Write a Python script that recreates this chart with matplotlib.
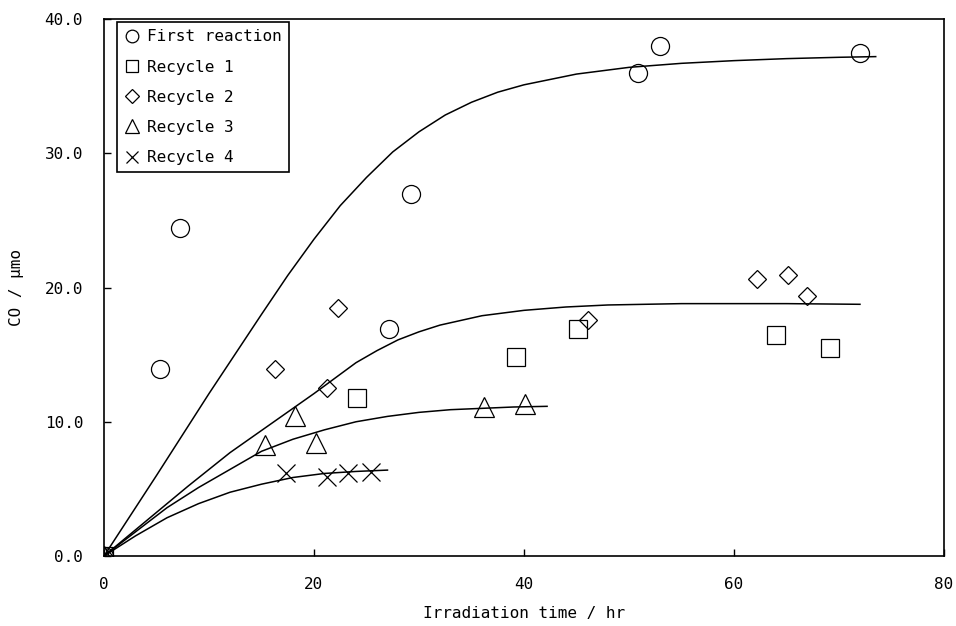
import matplotlib.pyplot as plt

plt.rcParams['font.family'] = ['DejaVu Sans Mono', 'DejaVu Sans']

# measured points
first_x = [0, 5.3, 7.2, 27.1, 29.2, 50.9, 53.0, 72.0]
first_y = [0, 13.9, 24.4, 16.9, 27.0, 36.0, 38.0, 37.5]

rec1_x = [0, 24.1, 39.2, 45.1, 64.0, 69.1]
rec1_y = [0, 11.8, 14.8, 16.9, 16.5, 15.5]

rec2_x = [0, 16.3, 21.2, 22.3, 46.1, 62.2, 65.1, 67.0]
rec2_y = [0, 13.9, 12.5, 18.5, 17.6, 20.6, 20.9, 19.4]

rec3_x = [0, 15.3, 18.2, 20.2, 36.2, 40.1]
rec3_y = [0, 8.3, 10.4, 8.4, 11.1, 11.3]

rec4_x = [0, 17.3, 21.2, 23.2, 25.4]
rec4_y = [0, 6.2, 5.9, 6.2, 6.25]

# fitted curves
fit1_x = [0, 5, 10, 15, 17.5, 20, 22.5, 25, 27.5, 30, 32.5, 35, 37.5, 40, 45, 50, 55, 60, 65, 70, 73.5]
fit1_y = [0, 6.0, 12.1, 18.0, 20.9, 23.6, 26.1, 28.2, 30.1, 31.6, 32.85, 33.8, 34.55, 35.1, 35.9, 36.4,
          36.7, 36.9, 37.05, 37.15, 37.2]

fit2_x = [0, 4, 8, 12, 16, 20, 24, 26, 28, 30, 32, 36, 40, 44, 48, 55, 65, 72]
fit2_y = [0, 2.6, 5.2, 7.7, 9.9, 12.1, 14.4, 15.3, 16.1, 16.7, 17.2, 17.9, 18.3, 18.55, 18.7, 18.8,
          18.8, 18.75]

fit3_x = [0, 3, 6, 9, 12, 15, 18, 21, 24, 27, 30, 33, 36, 39, 42.2]
fit3_y = [0, 1.8, 3.6, 5.1, 6.45, 7.8, 8.7, 9.4, 10.0, 10.4, 10.7, 10.9, 11.0, 11.1, 11.15]

fit4_x = [0, 3, 6, 9, 12, 15, 18, 21, 24, 27]
fit4_y = [0, 1.5, 2.85, 3.9, 4.75, 5.35, 5.85, 6.15, 6.3, 6.4]

fig = plt.figure(figsize=(9.56, 6.26), dpi=100)
ax = fig.add_axes([0.1088, 0.1118, 0.8786, 0.8578])

for fx, fy in [(fit1_x, fit1_y), (fit2_x, fit2_y), (fit3_x, fit3_y), (fit4_x, fit4_y)]:
    ax.plot(fx, fy, color='black', lw=1.1)

mk = dict(linestyle='none', markerfacecolor='none', markeredgecolor='black',
          markeredgewidth=0.9, color='black')
ax.plot(first_x, first_y, marker='o', ms=13, label='First reaction', **mk)
ax.plot(rec1_x, rec1_y, marker='s', ms=13, label='Recycle 1', **mk)
ax.plot(rec2_x, rec2_y, marker='D', ms=9.5, label='Recycle 2', **mk)
ax.plot(rec3_x, rec3_y, marker='^', ms=14, label='Recycle 3', **mk)
ax.plot(rec4_x, rec4_y, marker='x', ms=12.5, label='Recycle 4', **mk)

ax.set_xlim(0, 80)
ax.set_ylim(0, 40)
ax.set_xticks([0, 20, 40, 60, 80])
ax.set_yticks([0, 10, 20, 30, 40])
ax.set_yticklabels(['%.1f' % v for v in [0, 10, 20, 30, 40]])
ax.tick_params(direction='in', length=5, width=1, pad=15, labelsize=11.5)
for s in ax.spines.values():
    s.set_linewidth(1.2)

ax.set_xlabel('Irradiation time / hr', fontsize=11.5, labelpad=10)
ax.set_ylabel('CO / \u03bcmo', fontsize=11.5, labelpad=15)

leg = ax.legend(loc='upper left', bbox_to_anchor=(0.0155, 0.994), borderaxespad=0,
                fancybox=False, edgecolor='black', framealpha=1, fontsize=11.5,
                markerscale=0.7, handlelength=1.0, handletextpad=0.45,
                labelspacing=0.95, borderpad=0.45)
leg.get_frame().set_linewidth(1.2)

plt.savefig('out.png', dpi=100)
